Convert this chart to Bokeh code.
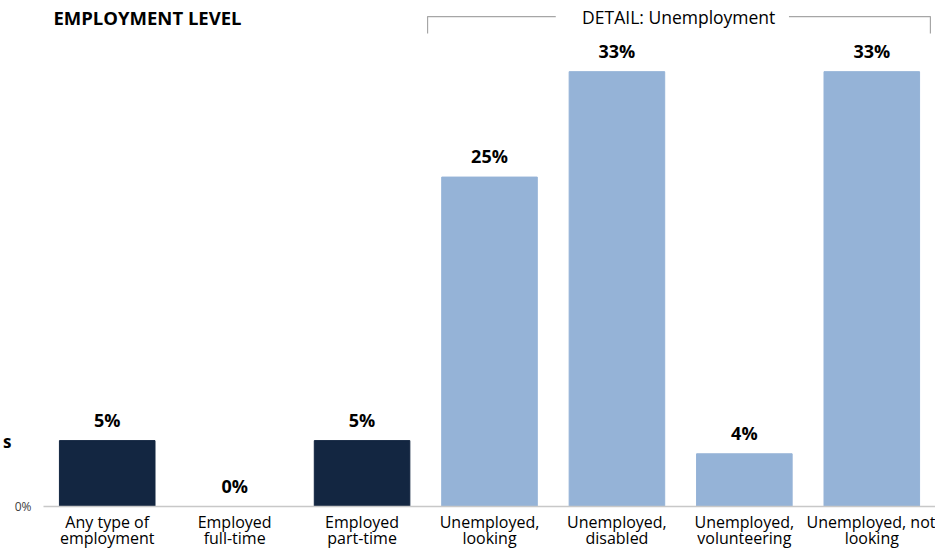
from bokeh.plotting import figure
from bokeh.models import ColumnDataSource, FixedTicker, Range1d, LinearAxis
from bokeh.core.properties import value
from bokeh.embed import file_html
from bokeh.resources import INLINE

categories = ["Any type of\nemployment", "Employed\nfull-time", "Employed\npart-time",
              "Unemployed,\nlooking", "Unemployed,\ndisabled", "Unemployed,\nvolunteering",
              "Unemployed, not\nlooking"]
values = [5, 0, 5, 25, 33, 4, 33]
groups = ["level", "level", "level", "detail", "detail", "detail", "detail"]
value_labels = ["5%", "0%", "5%", "25%", "33%", "4%", "33%"]
title_text = "EMPLOYMENT LEVEL"
bracket_text = "DETAIL: Unemployment"
y_tick_labels = {0: "0%"}
edge_text = {4.94: "s"}   # text cut at the left edge in the reference

FONT = "Open Sans"
colors = {"level": "#132641", "detail": "#95B3D7"}

xs = [i + 0.5 for i in range(len(categories))]
src = ColumnDataSource(dict(x=xs, top=values, lab=value_labels,
                            color=[colors[g] for g in groups]))

p = figure(width=935, height=551, output_backend="svg", toolbar_location=None,
           x_range=Range1d(0, 7), y_range=Range1d(0, 38.40),
           min_border_left=43, min_border_right=0, min_border_top=0, min_border_bottom=0)
p.outline_line_color = None
p.grid.visible = False
p.background_fill_color = "white"

p.vbar(x="x", top="top", width=0.75, color="color", source=src)
p.text(x="x", y="top", text="lab", source=src, y_offset=-21,
       text_align="center", text_baseline="middle", text_font=value(FONT),
       text_font_style="bold", text_font_size="18px", text_color="#000000")

# x axis: first line of each category label
line1 = {x: c.split("\n")[0] for x, c in zip(xs, categories)}
line2 = {x: (c.split("\n") + [""])[1] for x, c in zip(xs, categories)}

p.xaxis.ticker = FixedTicker(ticks=xs)
p.xaxis.major_label_overrides = line1
p.xaxis.axis_line_color = "#c8c8c8"
p.xaxis.axis_line_width = 1.5
p.xaxis.major_tick_line_color = None
p.xaxis.minor_tick_line_color = None
p.xaxis.major_tick_out = 0
p.xaxis.major_tick_in = 0
p.xaxis.major_label_text_font = FONT
p.xaxis.major_label_text_font_size = "16px"
p.xaxis.major_label_text_line_height = 0.8
p.xaxis.major_label_text_color = "#000000"
p.xaxis.major_label_standoff = 4

# second axis below carries the second line of each category label
ax2 = LinearAxis(ticker=FixedTicker(ticks=xs), major_label_overrides=line2,
                 axis_line_color=None, major_tick_line_color=None, minor_tick_line_color=None,
                 major_tick_out=0, major_tick_in=0,
                 major_label_text_font=FONT, major_label_text_font_size="16px",
                 major_label_text_line_height=0.2,
                 major_label_text_color="#000000", major_label_standoff=-9)
p.add_layout(ax2, "below")

# y axis
p.yaxis.ticker = FixedTicker(ticks=[0])
p.yaxis.major_label_overrides = y_tick_labels
p.yaxis.axis_line_color = None
p.yaxis.major_tick_line_color = None
p.yaxis.minor_tick_line_color = None
p.yaxis.major_tick_out = 0
p.yaxis.major_tick_in = 0
p.yaxis.major_label_text_font = FONT
p.yaxis.major_label_text_font_size = "12px"
p.yaxis.major_label_text_color = "#404040"
p.yaxis.major_label_standoff = 12

# outer left axis carrying the cut-off edge text
ay2 = LinearAxis(ticker=FixedTicker(ticks=list(edge_text.keys())), major_label_overrides=edge_text,
                 axis_line_color=None, major_tick_line_color=None, minor_tick_line_color=None,
                 major_tick_out=0, major_tick_in=0,
                 major_label_text_font=FONT, major_label_text_font_style="bold",
                 major_label_text_font_size="17px", major_label_text_color="#000000",
                 major_label_standoff=0)
p.add_layout(ay2, "left")

# title
p.text(x=[0.816], y=[37.11], text=[title_text], text_font=value(FONT), text_font_style="bold",
       text_font_size="18.5px", text_baseline="middle", text_align="center", text_color="#000000")
# bracket
bx0, bx1 = 3.014, 6.96
by_top, by_bot = 37.18, 35.89
p.line(x=[bx0, bx0, 4.02], y=[by_bot, by_top, by_top], line_color="#a6a6a6", line_width=1.2)
p.line(x=[5.85, bx1, bx1], y=[by_top, by_top, by_bot], line_color="#a6a6a6", line_width=1.2)
p.text(x=[4.985], y=[by_top], text=[bracket_text], text_font=value(FONT),
       text_font_size="17.5px", text_baseline="middle", text_align="center", text_color="#000000")

open("out.html", "w").write(file_html(p, INLINE))
